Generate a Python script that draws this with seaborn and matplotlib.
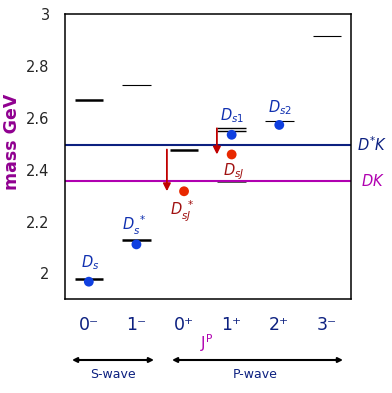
import numpy as np
import pandas as pd
import seaborn as sns
import matplotlib.pyplot as plt

# J^P columns
jp_labels = ["0⁻", "1⁻", "0⁺", "1⁺", "2⁺", "3⁻"]

# predicted levels (GeV)
level_jp = ["0⁻", "0⁻", "1⁻", "1⁻", "0⁺", "1⁺", "1⁺", "1⁺", "2⁺", "3⁻"]
level_mass = [1.978, 2.668, 2.128, 2.727, 2.478, 2.560, 2.548, 2.352, 2.590, 2.917]

# known D_s states
known_jp = ["0⁻", "1⁻", "1⁺", "2⁺"]
known_mass = [1.968, 2.112, 2.535, 2.573]
known_names = [r"$D_s$", r"$D_s^{\ *}$", r"$D_{s1}$", r"$D_{s2}$"]

# new narrow states
new_jp = ["0⁺", "1⁺"]
new_mass = [2.317, 2.459]
new_names = [r"$D_{sJ}^{\ *}$", r"$D_{sJ}$"]
new_from = [2.478, 2.560]   # predicted level the arrow starts at

# thresholds
dk_mass = 2.355
dstar_k_mass = 2.497

# styling (kept apart from the data)
level_lw = [1.8, 1.8, 1.8, 0.8, 1.8, 1.0, 1.0, 0.7, 0.8, 0.8]
level_col = ["black"] * 7 + ["#555555"] + ["black"] * 2
known_offs = [(1, 19), (-2, 19), (0, 19), (1, 17)]
new_offs = [(-2, -20), (2, -17)]
arrow_dx = [-0.36, -0.31]

BLUE = "#1040e0"
RED = "#e82800"
NAVY = "#0c2080"
MAG = "#b000b0"

sns.set_style("white")
plt.rcParams["font.family"] = ["DejaVu Sans"]

fig = plt.figure(figsize=(3.92, 3.93), dpi=100)
ax = fig.add_axes([65 / 392, 1 - 299.3 / 393, 285.7 / 392, 285 / 393])

xpos = {j: i for i, j in enumerate(jp_labels)}
lx = np.array([xpos[j] for j in level_jp])

# threshold lines
ax.axhline(dstar_k_mass, color=NAVY, lw=1.5, zorder=1)
ax.axhline(dk_mass, color=MAG, lw=1.5, zorder=1)

# predicted levels
ax.hlines(level_mass, lx - 0.3, lx + 0.3, colors=level_col, linewidths=level_lw, zorder=2)

known = pd.DataFrame({"x": [xpos[j] for j in known_jp], "mass": known_mass})
new = pd.DataFrame({"x": [xpos[j] for j in new_jp], "mass": new_mass})
sns.scatterplot(data=known, x="x", y="mass", color=BLUE, s=50, edgecolor="none", ax=ax, zorder=4)
sns.scatterplot(data=new, x="x", y="mass", color=RED, s=50, edgecolor="none", ax=ax, zorder=4)

for (x, m, name, off) in zip(known["x"], known_mass, known_names, known_offs):
    ax.annotate(name, (x, m), xytext=off, textcoords="offset pixels",
                ha="center", va="center", color="#1030b0", fontsize=10.5)

for (x, m, m0, name, off, dx) in zip(new["x"], new_mass, new_from, new_names, new_offs, arrow_dx):
    ax.annotate(name, (x, m), xytext=off, textcoords="offset pixels",
                ha="center", va="center", color="#a01010", fontsize=10.5)
    ax.annotate("", xy=(x + dx, m), xytext=(x + dx, m0),
                arrowprops=dict(arrowstyle="-|>", color="#c00000", lw=1.3,
                                mutation_scale=11, shrinkA=0, shrinkB=0))

# threshold labels
ax.annotate(r"$D^{*}K$", (1, dstar_k_mass), xycoords=("axes fraction", "data"),
            xytext=(6, 0), textcoords="offset pixels", ha="left", va="center",
            color=NAVY, fontsize=10.5, annotation_clip=False)
ax.annotate(r"$DK$", (1, dk_mass), xycoords=("axes fraction", "data"),
            xytext=(10, 0), textcoords="offset pixels", ha="left", va="center",
            color=MAG, fontsize=10.5, annotation_clip=False)

ax.set_xlim(-0.5, 5.5)
ax.set_ylim(1.9, 3.0)
ax.set_xlabel("")
ax.set_ylabel("")

ax.set_xticks(range(len(jp_labels)))
ax.set_xticklabels(jp_labels, color=NAVY, fontsize=12.5)
ax.set_xticks([0.5, 1.5, 3.5], minor=True)
ax.tick_params(axis="x", which="major", length=0, pad=12)
ax.tick_params(axis="x", which="minor", direction="in", length=8, width=1.1, color="black")

yt = [2.0, 2.2, 2.4, 2.6, 2.8, 3.0]
ax.set_yticks(yt)
ax.set_yticklabels(["%g" % v for v in yt], fontsize=10.5)
ax.set_yticks([1.95, 2.0, 2.1, 2.15, 2.4, 2.6, 2.65, 2.75, 2.8, 2.85, 2.9], minor=True)
ax.tick_params(axis="y", which="major", length=0, pad=11)
ax.tick_params(axis="y", which="minor", direction="in", length=4, width=1.0, color="black")

for sp in ax.spines.values():
    sp.set_color("black")
    sp.set_linewidth(1.1)

fig.text(12 / 392, 1 - 142 / 393, "mass GeV", rotation=90, ha="center", va="center",
         color="#900090", fontsize=12.5, fontweight="semibold")
fig.text(207 / 392, 1 - 343 / 393, r"$\mathregular{J^P}$", ha="center", va="center",
         color=MAG, fontsize=11)

# S-wave / P-wave brackets
ar = dict(arrowstyle="<|-|>", color="black", lw=1.5, mutation_scale=7, shrinkA=0, shrinkB=0)
yb = 1 - 360 / 393
fig.add_artist(plt.matplotlib.patches.FancyArrowPatch((72 / 392, yb), (154 / 392, yb),
               transform=fig.transFigure, **ar))
fig.add_artist(plt.matplotlib.patches.FancyArrowPatch((172 / 392, yb), (343 / 392, yb),
               transform=fig.transFigure, **ar))
fig.text(113 / 392, 1 - 374 / 393, "S-wave", ha="center", va="center", color=NAVY, fontsize=9)
fig.text(255 / 392, 1 - 374 / 393, "P-wave", ha="center", va="center", color=NAVY, fontsize=9)

fig.savefig("out.png", dpi=100)
